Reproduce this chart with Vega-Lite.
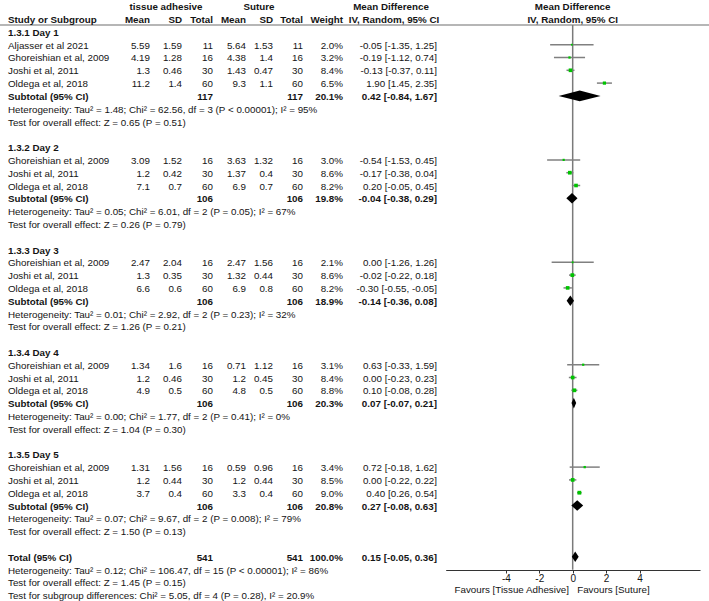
{
  "$schema": "https://vega.github.io/schema/vega-lite/v6.json",
  "width": 709,
  "height": 601,
  "autosize": {"type": "none"},
  "padding": 0,
  "background": "white",
  "config": {
    "view": {"stroke": null},
    "text": {"font": "Liberation Sans", "fontSize": 9.8, "color": "#141414", "baseline": "middle", "dy": 1},
    "axis": {"labelFont": "Liberation Sans", "labelFontSize": 10, "labelColor": "#141414", "grid": false},
    "axisY": {"disable": true}
  },
  "datasets": {
    "table": [
      {"row": -1, "kind": "header", "label": "Study or Subgroup", "m1": "Mean", "sd1": "SD", "n1": "Total", "m2": "Mean", "sd2": "SD", "n2": "Total", "w": "Weight"},
      {"row": 0, "kind": "group", "label": "1.3.1 Day 1"},
      {"row": 1, "kind": "study", "label": "Aljasser et al 2021", "m1": "5.59", "sd1": "1.59", "n1": "11", "m2": "5.64", "sd2": "1.53", "n2": "11", "w": "2.0%", "ci": "-0.05 [-1.35, 1.25]", "md": -0.05, "lo": -1.35, "hi": 1.25, "wt": 2.0},
      {"row": 2, "kind": "study", "label": "Ghoreishian et al, 2009", "m1": "4.19", "sd1": "1.28", "n1": "16", "m2": "4.38", "sd2": "1.4", "n2": "16", "w": "3.2%", "ci": "-0.19 [-1.12, 0.74]", "md": -0.19, "lo": -1.12, "hi": 0.74, "wt": 3.2},
      {"row": 3, "kind": "study", "label": "Joshi et al, 2011", "m1": "1.3", "sd1": "0.46", "n1": "30", "m2": "1.43", "sd2": "0.47", "n2": "30", "w": "8.4%", "ci": "-0.13 [-0.37, 0.11]", "md": -0.13, "lo": -0.37, "hi": 0.11, "wt": 8.4},
      {"row": 4, "kind": "study", "label": "Oldega et al, 2018", "m1": "11.2", "sd1": "1.4", "n1": "60", "m2": "9.3", "sd2": "1.1", "n2": "60", "w": "6.5%", "ci": "1.90 [1.45, 2.35]", "md": 1.9, "lo": 1.45, "hi": 2.35, "wt": 6.5},
      {"row": 5, "kind": "subtotal", "label": "Subtotal (95% CI)", "n1": "117", "n2": "117", "w": "20.1%", "ci": "0.42 [-0.84, 1.67]"},
      {"row": 6, "kind": "note", "label": "Heterogeneity: Tau² = 1.48; Chi² = 62.56, df = 3 (P < 0.00001); I² = 95%"},
      {"row": 7, "kind": "note", "label": "Test for overall effect: Z = 0.65 (P = 0.51)"},
      {"row": 9, "kind": "group", "label": "1.3.2 Day 2"},
      {"row": 10, "kind": "study", "label": "Ghoreishian et al, 2009", "m1": "3.09", "sd1": "1.52", "n1": "16", "m2": "3.63", "sd2": "1.32", "n2": "16", "w": "3.0%", "ci": "-0.54 [-1.53, 0.45]", "md": -0.54, "lo": -1.53, "hi": 0.45, "wt": 3.0},
      {"row": 11, "kind": "study", "label": "Joshi et al, 2011", "m1": "1.2", "sd1": "0.42", "n1": "30", "m2": "1.37", "sd2": "0.4", "n2": "30", "w": "8.6%", "ci": "-0.17 [-0.38, 0.04]", "md": -0.17, "lo": -0.38, "hi": 0.04, "wt": 8.6},
      {"row": 12, "kind": "study", "label": "Oldega et al, 2018", "m1": "7.1", "sd1": "0.7", "n1": "60", "m2": "6.9", "sd2": "0.7", "n2": "60", "w": "8.2%", "ci": "0.20 [-0.05, 0.45]", "md": 0.2, "lo": -0.05, "hi": 0.45, "wt": 8.2},
      {"row": 13, "kind": "subtotal", "label": "Subtotal (95% CI)", "n1": "106", "n2": "106", "w": "19.8%", "ci": "-0.04 [-0.38, 0.29]"},
      {"row": 14, "kind": "note", "label": "Heterogeneity: Tau² = 0.05; Chi² = 6.01, df = 2 (P = 0.05); I² = 67%"},
      {"row": 15, "kind": "note", "label": "Test for overall effect: Z = 0.26 (P = 0.79)"},
      {"row": 17, "kind": "group", "label": "1.3.3 Day 3"},
      {"row": 18, "kind": "study", "label": "Ghoreishian et al, 2009", "m1": "2.47", "sd1": "2.04", "n1": "16", "m2": "2.47", "sd2": "1.56", "n2": "16", "w": "2.1%", "ci": "0.00 [-1.26, 1.26]", "md": 0.0, "lo": -1.26, "hi": 1.26, "wt": 2.1},
      {"row": 19, "kind": "study", "label": "Joshi et al, 2011", "m1": "1.3", "sd1": "0.35", "n1": "30", "m2": "1.32", "sd2": "0.44", "n2": "30", "w": "8.6%", "ci": "-0.02 [-0.22, 0.18]", "md": -0.02, "lo": -0.22, "hi": 0.18, "wt": 8.6},
      {"row": 20, "kind": "study", "label": "Oldega et al, 2018", "m1": "6.6", "sd1": "0.6", "n1": "60", "m2": "6.9", "sd2": "0.8", "n2": "60", "w": "8.2%", "ci": "-0.30 [-0.55, -0.05]", "md": -0.3, "lo": -0.55, "hi": -0.05, "wt": 8.2},
      {"row": 21, "kind": "subtotal", "label": "Subtotal (95% CI)", "n1": "106", "n2": "106", "w": "18.9%", "ci": "-0.14 [-0.36, 0.08]"},
      {"row": 22, "kind": "note", "label": "Heterogeneity: Tau² = 0.01; Chi² = 2.92, df = 2 (P = 0.23); I² = 32%"},
      {"row": 23, "kind": "note", "label": "Test for overall effect: Z = 1.26 (P = 0.21)"},
      {"row": 25, "kind": "group", "label": "1.3.4 Day 4"},
      {"row": 26, "kind": "study", "label": "Ghoreishian et al, 2009", "m1": "1.34", "sd1": "1.6", "n1": "16", "m2": "0.71", "sd2": "1.12", "n2": "16", "w": "3.1%", "ci": "0.63 [-0.33, 1.59]", "md": 0.63, "lo": -0.33, "hi": 1.59, "wt": 3.1},
      {"row": 27, "kind": "study", "label": "Joshi et al, 2011", "m1": "1.2", "sd1": "0.46", "n1": "30", "m2": "1.2", "sd2": "0.45", "n2": "30", "w": "8.4%", "ci": "0.00 [-0.23, 0.23]", "md": 0.0, "lo": -0.23, "hi": 0.23, "wt": 8.4},
      {"row": 28, "kind": "study", "label": "Oldega et al, 2018", "m1": "4.9", "sd1": "0.5", "n1": "60", "m2": "4.8", "sd2": "0.5", "n2": "60", "w": "8.8%", "ci": "0.10 [-0.08, 0.28]", "md": 0.1, "lo": -0.08, "hi": 0.28, "wt": 8.8},
      {"row": 29, "kind": "subtotal", "label": "Subtotal (95% CI)", "n1": "106", "n2": "106", "w": "20.3%", "ci": "0.07 [-0.07, 0.21]"},
      {"row": 30, "kind": "note", "label": "Heterogeneity: Tau² = 0.00; Chi² = 1.77, df = 2 (P = 0.41); I² = 0%"},
      {"row": 31, "kind": "note", "label": "Test for overall effect: Z = 1.04 (P = 0.30)"},
      {"row": 33, "kind": "group", "label": "1.3.5 Day 5"},
      {"row": 34, "kind": "study", "label": "Ghoreishian et al, 2009", "m1": "1.31", "sd1": "1.56", "n1": "16", "m2": "0.59", "sd2": "0.96", "n2": "16", "w": "3.4%", "ci": "0.72 [-0.18, 1.62]", "md": 0.72, "lo": -0.18, "hi": 1.62, "wt": 3.4},
      {"row": 35, "kind": "study", "label": "Joshi et al, 2011", "m1": "1.2", "sd1": "0.44", "n1": "30", "m2": "1.2", "sd2": "0.44", "n2": "30", "w": "8.5%", "ci": "0.00 [-0.22, 0.22]", "md": 0.0, "lo": -0.22, "hi": 0.22, "wt": 8.5},
      {"row": 36, "kind": "study", "label": "Oldega et al, 2018", "m1": "3.7", "sd1": "0.4", "n1": "60", "m2": "3.3", "sd2": "0.4", "n2": "60", "w": "9.0%", "ci": "0.40 [0.26, 0.54]", "md": 0.4, "lo": 0.26, "hi": 0.54, "wt": 9.0},
      {"row": 37, "kind": "subtotal", "label": "Subtotal (95% CI)", "n1": "106", "n2": "106", "w": "20.8%", "ci": "0.27 [-0.08, 0.63]"},
      {"row": 38, "kind": "note", "label": "Heterogeneity: Tau² = 0.07; Chi² = 9.67, df = 2 (P = 0.008); I² = 79%"},
      {"row": 39, "kind": "note", "label": "Test for overall effect: Z = 1.50 (P = 0.13)"},
      {"row": 41, "kind": "total", "label": "Total (95% CI)", "n1": "541", "n2": "541", "w": "100.0%", "ci": "0.15 [-0.05, 0.36]"},
      {"row": 42, "kind": "note", "label": "Heterogeneity: Tau² = 0.12; Chi² = 106.47, df = 15 (P < 0.00001); I² = 86%"},
      {"row": 43, "kind": "note", "label": "Test for overall effect: Z = 1.45 (P = 0.15)"},
      {"row": 44, "kind": "note", "label": "Test for subgroup differences: Chi² = 5.05, df = 4 (P = 0.28), I² = 20.9%"}
    ],
    "diamonds": [
      {"row": 5, "vertex": "edge", "v": -0.84}, {"row": 5, "vertex": "top", "v": 0.42}, {"row": 5, "vertex": "edge", "v": 1.67}, {"row": 5, "vertex": "bottom", "v": 0.42},
      {"row": 13, "vertex": "edge", "v": -0.38}, {"row": 13, "vertex": "top", "v": -0.04}, {"row": 13, "vertex": "edge", "v": 0.29}, {"row": 13, "vertex": "bottom", "v": -0.04},
      {"row": 21, "vertex": "edge", "v": -0.36}, {"row": 21, "vertex": "top", "v": -0.14}, {"row": 21, "vertex": "edge", "v": 0.08}, {"row": 21, "vertex": "bottom", "v": -0.14},
      {"row": 29, "vertex": "edge", "v": -0.07}, {"row": 29, "vertex": "top", "v": 0.07}, {"row": 29, "vertex": "edge", "v": 0.21}, {"row": 29, "vertex": "bottom", "v": 0.07},
      {"row": 37, "vertex": "edge", "v": -0.08}, {"row": 37, "vertex": "top", "v": 0.27}, {"row": 37, "vertex": "edge", "v": 0.63}, {"row": 37, "vertex": "bottom", "v": 0.27},
      {"row": 41, "vertex": "edge", "v": -0.05}, {"row": 41, "vertex": "top", "v": 0.15}, {"row": 41, "vertex": "edge", "v": 0.36}, {"row": 41, "vertex": "bottom", "v": 0.15}
    ]
  },
  "resolve": {"scale": {"y": "independent"}},
  "layer": [
    {
      "layer": [
        {
          "data": {"values": [{}]},
          "mark": {"type": "rule", "color": "#6e6e6e", "strokeWidth": 1.2},
          "encoding": {
            "x": {"value": 0}, "x2": {"value": 709},
            "y": {"datum": -0.54, "type": "quantitative", "scale": {"domain": [-2.492, 44.46], "reverse": true, "nice": false, "zero": false}}
          }
        },
        {
          "data": {"values": [{}]},
          "mark": {"type": "rule", "color": "#7a7a7a", "strokeWidth": 1.5},
          "encoding": {
            "x": {"datum": 0, "type": "quantitative", "scale": {"domain": [-7.6, 7.62], "range": [445.7, 700], "nice": false, "zero": false}, "axis": {"orient": "bottom", "offset": -31, "values": [-4, -2, 0, 2, 4], "title": null, "domainColor": "#333", "domainWidth": 1, "tickColor": "#333", "tickSize": 3, "labelPadding": 0, "labelExpr": "datum.value + ''"}},
            "y": {"datum": -0.54, "type": "quantitative"},
            "y2": {"datum": 42.02}
          }
        },
        {
          "data": {"name": "table"},
          "transform": [{"filter": "datum.kind === 'study'"}],
          "mark": {"type": "rule", "color": "#808080", "strokeWidth": 1.5},
          "encoding": {
            "x": {"field": "lo", "type": "quantitative", "scale": {"domain": [-7.6, 7.62], "range": [445.7, 700], "nice": false, "zero": false}, "axis": {"orient": "bottom", "offset": -31, "values": [-4, -2, 0, 2, 4], "title": null, "domainColor": "#333", "domainWidth": 1, "tickColor": "#333", "tickSize": 3, "labelPadding": 0, "labelExpr": "datum.value + ''"}},
            "x2": {"field": "hi"},
            "y": {"field": "row", "type": "quantitative"}
          }
        },
        {
          "data": {"name": "table"},
          "transform": [{"filter": "datum.kind === 'study'"}],
          "mark": {"type": "square", "color": "#00c400", "opacity": 1},
          "encoding": {
            "x": {"field": "md", "type": "quantitative", "scale": {"domain": [-7.6, 7.62], "range": [445.7, 700], "nice": false, "zero": false}, "axis": {"orient": "bottom", "offset": -31, "values": [-4, -2, 0, 2, 4], "title": null, "domainColor": "#333", "domainWidth": 1, "tickColor": "#333", "tickSize": 3, "labelPadding": 0, "labelExpr": "datum.value + ''"}},
            "y": {"field": "row", "type": "quantitative"},
            "size": {"field": "wt", "type": "quantitative", "scale": {"domain": [0, 10], "range": [0, 16]}, "legend": null}
          }
        },
        {
          "data": {"name": "table"},
          "mark": {"type": "text", "align": "left", "fontWeight": {"expr": "datum.kind === 'study' || datum.kind === 'note' ? 'normal' : 'bold'"}},
          "encoding": {"x": {"value": 8}, "y": {"field": "row", "type": "quantitative"}, "text": {"field": "label"}}
        },
        {
          "data": {"name": "table"},
          "transform": [{"filter": "isValid(datum.m1)"}],
          "mark": {"type": "text", "align": "right", "fontWeight": {"expr": "datum.kind === 'study' ? 'normal' : 'bold'"}},
          "encoding": {"x": {"value": 150}, "y": {"field": "row", "type": "quantitative"}, "text": {"field": "m1"}}
        },
        {
          "data": {"name": "table"},
          "transform": [{"filter": "isValid(datum.sd1)"}],
          "mark": {"type": "text", "align": "right", "fontWeight": {"expr": "datum.kind === 'study' ? 'normal' : 'bold'"}},
          "encoding": {"x": {"value": 182}, "y": {"field": "row", "type": "quantitative"}, "text": {"field": "sd1"}}
        },
        {
          "data": {"name": "table"},
          "transform": [{"filter": "isValid(datum.n1)"}],
          "mark": {"type": "text", "align": "right", "fontWeight": {"expr": "datum.kind === 'study' ? 'normal' : 'bold'"}},
          "encoding": {"x": {"value": 213}, "y": {"field": "row", "type": "quantitative"}, "text": {"field": "n1"}}
        },
        {
          "data": {"name": "table"},
          "transform": [{"filter": "isValid(datum.m2)"}],
          "mark": {"type": "text", "align": "right", "fontWeight": {"expr": "datum.kind === 'study' ? 'normal' : 'bold'"}},
          "encoding": {"x": {"value": 246}, "y": {"field": "row", "type": "quantitative"}, "text": {"field": "m2"}}
        },
        {
          "data": {"name": "table"},
          "transform": [{"filter": "isValid(datum.sd2)"}],
          "mark": {"type": "text", "align": "right", "fontWeight": {"expr": "datum.kind === 'study' ? 'normal' : 'bold'"}},
          "encoding": {"x": {"value": 273}, "y": {"field": "row", "type": "quantitative"}, "text": {"field": "sd2"}}
        },
        {
          "data": {"name": "table"},
          "transform": [{"filter": "isValid(datum.n2)"}],
          "mark": {"type": "text", "align": "right", "fontWeight": {"expr": "datum.kind === 'study' ? 'normal' : 'bold'"}},
          "encoding": {"x": {"value": 303}, "y": {"field": "row", "type": "quantitative"}, "text": {"field": "n2"}}
        },
        {
          "data": {"name": "table"},
          "transform": [{"filter": "isValid(datum.w)"}],
          "mark": {"type": "text", "align": "right", "fontWeight": {"expr": "datum.kind === 'study' ? 'normal' : 'bold'"}},
          "encoding": {"x": {"value": 343}, "y": {"field": "row", "type": "quantitative"}, "text": {"field": "w"}}
        },
        {
          "data": {"name": "table"},
          "transform": [{"filter": "isValid(datum.ci)"}],
          "mark": {"type": "text", "align": "right", "fontWeight": {"expr": "datum.kind === 'study' ? 'normal' : 'bold'"}},
          "encoding": {"x": {"value": 437}, "y": {"field": "row", "type": "quantitative"}, "text": {"field": "ci"}}
        },
        {
          "data": {"values": [{}]},
          "mark": {"type": "text", "align": "center", "fontWeight": "bold", "text": "tissue adhesive"},
          "encoding": {"x": {"value": 166}, "y": {"datum": -2, "type": "quantitative"}}
        },
        {
          "data": {"values": [{}]},
          "mark": {"type": "text", "align": "center", "fontWeight": "bold", "text": "Suture"},
          "encoding": {"x": {"value": 259}, "y": {"datum": -2, "type": "quantitative"}}
        },
        {
          "data": {"values": [{}]},
          "mark": {"type": "text", "align": "center", "fontWeight": "bold", "text": "Mean Difference"},
          "encoding": {"x": {"value": 391}, "y": {"datum": -2, "type": "quantitative"}}
        },
        {
          "data": {"values": [{}]},
          "mark": {"type": "text", "align": "center", "fontWeight": "bold", "text": "IV, Random, 95% CI"},
          "encoding": {"x": {"value": 394}, "y": {"datum": -1, "type": "quantitative"}}
        },
        {
          "data": {"values": [{}]},
          "mark": {"type": "text", "align": "center", "fontWeight": "bold", "text": "Mean Difference"},
          "encoding": {"x": {"datum": 0, "type": "quantitative"}, "y": {"datum": -2, "type": "quantitative"}}
        },
        {
          "data": {"values": [{}]},
          "mark": {"type": "text", "align": "center", "fontWeight": "bold", "text": "IV, Random, 95% CI"},
          "encoding": {"x": {"datum": 0, "type": "quantitative"}, "y": {"datum": -1, "type": "quantitative"}}
        },
        {
          "data": {"values": [{}]},
          "mark": {"type": "text", "align": "right", "dx": -3.7, "text": "Favours [Tissue Adhesive]"},
          "encoding": {"x": {"datum": 0, "type": "quantitative"}, "y": {"datum": 43.52, "type": "quantitative"}}
        },
        {
          "data": {"values": [{}]},
          "mark": {"type": "text", "align": "left", "dx": 4.5, "text": "Favours [Suture]"},
          "encoding": {"x": {"datum": 0, "type": "quantitative"}, "y": {"datum": 43.52, "type": "quantitative"}}
        }
      ]
    },
    {
      "data": {"name": "diamonds"},
      "mark": {"type": "line", "filled": true, "color": "black", "interpolate": "linear"},
      "encoding": {
        "x": {"field": "v", "type": "quantitative", "scale": {"domain": [-7.6, 7.62], "range": [445.7, 700], "nice": false, "zero": false}, "axis": {"orient": "bottom", "offset": -31, "values": [-4, -2, 0, 2, 4], "title": null, "domainColor": "#333", "domainWidth": 1, "tickColor": "#333", "tickSize": 3, "labelPadding": 0, "labelExpr": "datum.value + ''"}},
        "y": {"field": "row", "type": "ordinal", "scale": {"type": "point", "domain": [-2, -1, 0, 1, 2, 3, 4, 5, 6, 7, 8, 9, 10, 11, 12, 13, 14, 15, 16, 17, 18, 19, 20, 21, 22, 23, 24, 25, 26, 27, 28, 29, 30, 31, 32, 33, 34, 35, 36, 37, 38, 39, 40, 41, 42, 43, 44], "range": [6.3, 595.1], "padding": 0}},
        "yOffset": {"field": "vertex", "type": "nominal", "scale": {"type": "point", "domain": ["top", "edge", "bottom"], "range": [-5.3, 5.3], "padding": 0}},
        "detail": {"field": "row", "type": "nominal"},
        "order": {"value": null}
      }
    }
  ]
}
